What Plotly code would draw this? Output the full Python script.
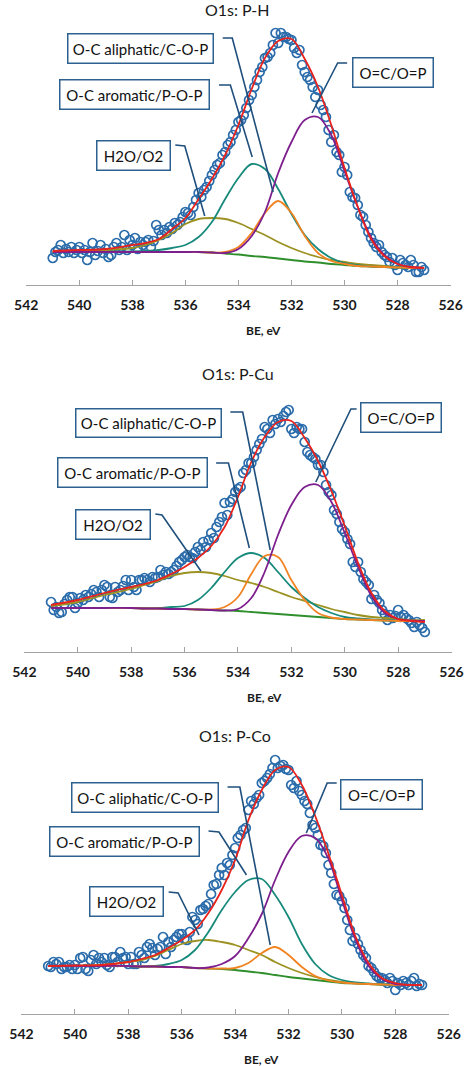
import plotly.graph_objects as go

W, H = 474, 1066

# ---------------- data ----------------
# binding energies of the measured points (eV) and of the fitted curves
be_pts = [round(541.0 - 0.1 * i, 1) for i in range(141)]
be_fit = [541, 540, 539, 538, 537.5, 537, 536.5, 536, 535.5, 535, 534.5, 534, 533.5,
          533, 532.5, 532, 531.5, 531, 530.5, 530, 529.5, 529, 528.5, 528, 527.5, 527]

# ---- O1s: P-H ----
ph_pts = [27, 33, 35, 40, 32, 36, 33, 38, 32, 35,
          38, 32, 35, 25, 33, 42, 30, 34, 40, 32,
          36, 28, 30, 38, 42, 35, 38, 50, 35, 45,
          40, 47, 36, 43, 40, 43, 45, 38, 44, 60,
          55, 50, 55, 52, 58, 56, 62, 60, 63, 68,
          73, 72, 70, 78, 85, 92, 88, 95, 98, 104,
          110, 115, 120, 122, 130, 133, 140, 143, 150, 155,
          163, 165, 170, 177, 185, 190, 198, 205, 213, 218,
          227, 228, 232, 240, 252, 242, 252, 248, 248, 246,
          245, 237, 232, 235, 220, 213, 208, 205, 198, 188,
          195, 180, 175, 168, 155, 143, 150, 133, 130, 113,
          118, 110, 93, 88, 87, 80, 70, 68, 60, 53,
          47, 42, 38, 40, 33, 30, 28, 23, 27, 20,
          15, 25, 22, 20, 18, 25, 20, 13, 13, 18,
          15]
ph_base = [33, 33, 33, 33, 33, 33, 33, 33, 33, 32.5, 31.5, 30.5, 29,
           28, 26.5, 25, 23.5, 22.5, 21, 20, 19, 18.5, 18, 17.5, 17, 17]
ph_h2o = [33, 34, 35, 37, 40, 45, 52, 61, 66, 67, 66, 62, 56,
          50, 43, 37, 32, 28, 25, 23, 21, 20, 19, 18, 17.5, 17]
ph_arom = [33, 33, 33, 33.5, 34, 35, 37, 40, 48, 63, 86, 107, 121,
           116, 96, 71, 50, 36, 27, 22, 20, 18.5, 18, 17.5, 17, 17]
ph_aliph = [33, 33, 33, 33, 33, 33, 33, 33, 33, 32.5, 33, 38, 52,
            72, 84, 72, 49, 32, 24, 21, 19, 18.5, 18, 17.5, 17, 17]
ph_oc = [33, 33, 33, 33, 33, 33, 33, 33, 33, 32.5, 32, 36, 49,
         73, 112, 143, 165, 168, 150, 114, 78, 48, 30, 21, 18, 17]
ph_env = [34, 35, 36, 40, 42, 46, 56, 67, 86, 106, 130, 160, 196,
          227, 244, 246, 226, 198, 160, 117, 78, 46, 29, 21, 18, 17]

# ---- O1s: P-Cu ----
pcu_pts = [50, 42, 45, 39, 40, 48, 52, 55, 55, 44,
           49, 54, 52, 57, 55, 58, 62, 60, 55, 62,
           67, 65, 55, 54, 65, 60, 62, 66, 72, 62,
           72, 65, 62, 72, 72, 74, 72, 70, 75, 74,
           75, 82, 77, 80, 78, 80, 82, 86, 90, 92,
           95, 97, 95, 94, 100, 105, 102, 110, 105, 112,
           119, 114, 125, 130, 135, 149, 137, 150, 153, 160,
           163, 165, 179, 182, 189, 189, 195, 202, 208, 213,
           225, 223, 219, 232, 228, 233, 230, 236, 240, 242,
           223, 219, 225, 223, 223, 210, 200, 197, 195, 193,
           187, 187, 180, 167, 160, 157, 142, 138, 130, 123,
           120, 113, 108, 90, 85, 90, 80, 73, 70, 67,
           53, 57, 52, 49, 42, 38, 32, 37, 34, 36,
           42, 35, 37, 34, 32, 29, 25, 30, 27, 24,
           20]
pcu_base = [44, 44, 44, 44, 43.5, 43.5, 43, 43, 42.5, 42, 41.5, 41, 40,
            39, 38, 37, 36, 35, 34, 33, 32.5, 32, 31.5, 31, 31, 31]
pcu_h2o = [46, 50, 57, 63, 67, 71, 76, 79, 80, 79, 76, 72, 69,
           65, 60, 55, 51, 47, 43, 40, 37, 35, 34, 33, 32, 32]
pcu_arom = [44, 44, 44, 44, 44, 44, 45, 46, 52, 64, 80, 94, 99,
            94, 80, 65, 54, 45, 39, 35, 33.5, 32.5, 32, 31, 31, 31]
pcu_aliph = [44, 44, 44, 44, 43.5, 43.5, 43, 43, 42.5, 42.5, 45, 55, 78,
             96, 95, 72, 52, 39, 34.5, 33, 32.5, 32, 31.5, 31, 31, 31]
pcu_oc = [44, 44, 44, 44, 43.5, 43.5, 43, 43, 42.5, 42, 41.5, 43, 54,
          80, 117, 147, 165, 167, 150, 119, 85, 56, 39, 33, 31.5, 31]
pcu_env = [47, 52, 59, 65, 68, 72, 78, 85, 94, 106, 125, 155, 190,
           215, 230, 231, 214, 191, 161, 126, 89, 59, 41, 33, 31, 30]

# ---- O1s: P-Co ----
pco_pts = [48, 47, 52, 50, 52, 45, 47, 47, 49, 45,
           49, 45, 56, 57, 45, 43, 54, 59, 50, 56,
           52, 56, 49, 47, 57, 57, 52, 62, 56, 57,
           50, 57, 50, 50, 62, 59, 56, 67, 70, 66,
           59, 65, 67, 77, 60, 72, 67, 74, 77, 80,
           80, 75, 74, 82, 97, 94, 90, 104, 105, 108,
           110, 120, 129, 130, 139, 146, 139, 151, 149, 159,
           166, 176, 179, 184, 186, 204, 213, 210, 216, 219,
           231, 233, 236, 240, 246, 254, 246, 248, 249, 245,
           244, 229, 226, 233, 223, 219, 213, 210, 201, 189,
           186, 179, 169, 168, 161, 149, 141, 130, 119, 118,
           113, 106, 94, 84, 73, 76, 70, 64, 59, 56,
           48, 46, 42, 38, 36, 36, 34, 31, 36, 33,
           24, 31, 29, 33, 31, 29, 33, 36, 28, 30,
           29]
pco_base = [48, 48, 48, 48, 47.5, 47.5, 47, 47, 46, 45.5, 45, 44, 42.5,
            41, 39, 37, 35.5, 34, 32.5, 31, 30.5, 30, 29.5, 29, 29, 29]
pco_h2o = [48, 48, 49, 52, 54, 58, 64, 70, 73, 74, 72, 69, 64,
           59, 52, 46, 41, 37, 34, 32, 31, 30, 29.5, 29, 29, 29]
pco_arom = [48, 48, 48, 48, 47.5, 48, 50, 54, 64, 82, 104, 122, 134,
            135, 119, 97, 70, 50, 39, 34, 31.5, 30.5, 29.5, 29, 29, 29]
pco_aliph = [48, 48, 48, 48, 47.5, 47.5, 47, 47, 46, 45.5, 45.5, 46, 51,
             61, 67, 59, 47, 38, 33.5, 31.5, 30.5, 30, 29.5, 29, 29, 29]
pco_oc = [48, 48, 48, 48, 47.5, 47.5, 47, 47, 46, 46.5, 50, 58, 76,
          100, 134, 162, 178, 176, 155, 114, 75, 48, 35, 30, 29, 29]
pco_env = [48, 48.5, 49, 52, 55, 59, 66, 74, 84, 101, 124, 154, 194,
           224, 244, 247, 229, 198, 160, 119, 78, 51, 36, 31, 29, 29]

titles = ["O1s: P-H", "O1s: P-Cu", "O1s: P-Co"]
tick_vals = [542, 540, 538, 536, 534, 532, 530, 528, 526]
tick_text = ["542", "540", "538", "536", "534", "532", "530", "528", "526"]
labels = ["O-C aliphatic/C-O-P", "O-C aromatic/P-O-P", "H2O/O2", "O=C/O=P"]

panels = [
    (ph_pts, ph_base, ph_h2o, ph_arom, ph_aliph, ph_oc, ph_env),
    (pcu_pts, pcu_base, pcu_h2o, pcu_arom, pcu_aliph, pcu_oc, pcu_env),
    (pco_pts, pco_base, pco_h2o, pco_arom, pco_aliph, pco_oc, pco_env),
]

# ---------------- styling / layout geometry (pixels) ----------------
FONT = "Lato, Open Sans, sans-serif"
C_PTS = "#2b6cab"
C_ENV = "#e8221c"
C_OC = "#7e1f8e"
C_ALI = "#f28322"
C_ARO = "#178a7c"
C_H2O = "#9c9222"
C_BASE = "#2f8f2c"
C_LEAD = "#1f4f7c"
C_BOX = "#2d6190"

def fx(px):
    return px / W

def fy(py):
    return 1 - py / H

# plot geometry: (x px of 542, x px of 526, axis y px, top y px)
geo = [(15, 462, 285, 20), (13, 463, 652, 387), (10, 460, 1014, 749)]
YMAX = 265

fig = go.Figure()

curve_sets = [(1, C_BASE), (2, C_H2O), (3, C_ARO), (4, C_ALI), (5, C_OC), (6, C_ENV)]

for i, pdata in enumerate(panels):
    xa = "x" if i == 0 else f"x{i+1}"
    ya = "y" if i == 0 else f"y{i+1}"
    fig.add_trace(go.Scatter(
        x=be_pts, y=pdata[0], mode="markers", xaxis=xa, yaxis=ya,
        marker=dict(symbol="circle-open", size=9, color=C_PTS, line=dict(width=1.7, color=C_PTS)),
        showlegend=False, hoverinfo="skip"))
    for idx, col in curve_sets:
        fig.add_trace(go.Scatter(
            x=be_fit, y=pdata[idx], mode="lines", xaxis=xa, yaxis=ya,
            line=dict(color=col, width=1.8, shape="spline", smoothing=1.0),
            showlegend=False, hoverinfo="skip"))

layout = dict(width=W, height=H, margin=dict(l=0, r=0, t=0, b=0),
              paper_bgcolor="white", plot_bgcolor="white", showlegend=False)

for i, (x0, x1, ay, ty) in enumerate(geo):
    sfx = "" if i == 0 else str(i + 1)
    layout["xaxis" + sfx] = dict(
        domain=[fx(x0), fx(x1)], range=[542, 526], anchor="y" + sfx,
        tickvals=tick_vals, ticktext=tick_text, showgrid=False, zeroline=False,
        showline=True, linecolor="#a3a3a3", linewidth=1, ticks="inside", ticklen=5,
        tickcolor="#a3a3a3", ticklabelstandoff=7,
        tickfont=dict(family=FONT, size=14, color="#1a1a1a", weight="bold"))
    layout["yaxis" + sfx] = dict(
        domain=[fy(ay), fy(ty)], range=[0, YMAX], visible=False, anchor="x" + sfx)

fig.update_layout(**layout)

annotations = []
shapes = []

# titles and axis titles
title_pos = [(238, 9), (238, 373), (235, 735)]
axis_title_pos = [(265, 330), (266, 697), (263, 1059)]
for t, (px, py) in zip(titles, title_pos):
    annotations.append(dict(text=t, x=fx(px), y=fy(py), xref="paper", yref="paper",
                            xanchor="center", yanchor="middle", showarrow=False,
                            font=dict(family=FONT, size=16, color="#1a1a1a")))
for (px, py) in axis_title_pos:
    annotations.append(dict(text="BE, eV", x=fx(px), y=fy(py), xref="paper", yref="paper",
                            xanchor="center", yanchor="middle", showarrow=False,
                            font=dict(family=FONT, size=12, color="#1a1a1a", weight="bold")))

# callout boxes: (label index, center x, center y, box width, box height)
boxes = [
    [(0, 135, 48, 146, 30), (1, 129, 95, 150, 30), (2, 128, 155, 74, 30), (3, 401.5, 72, 81, 30)],
    [(0, 144, 422.5, 146, 29), (1, 127, 473, 150, 30), (2, 106.5, 524, 75, 30), (3, 409.5, 418, 81, 30)],
    [(0, 140.5, 797, 147, 30), (1, 119, 841, 150, 30), (2, 121, 901, 74, 30), (3, 389, 794, 82, 30)],
]
leaders = [
    [[(222, 38), (232, 38), (275, 192)], [(218, 85), (230, 85), (253, 157)],
     [(172, 145), (182, 146), (203, 216)], [(353, 63), (343, 63), (316, 113)]],
    [[(230, 412), (243, 412), (272, 550)], [(215, 463), (228, 463), (250, 548)],
     [(151, 514), (158, 515), (199, 571)], [(363, 409), (357, 409), (320, 482)]],
    [[(227, 787), (240, 787), (272, 945)], [(207, 831), (218, 832), (247, 875)],
     [(165, 892), (175, 893), (197, 935)], [(342, 783), (332, 783), (310, 833)]],
]

for pb in boxes:
    for (li, cx, cy, bw, bh) in pb:
        annotations.append(dict(
            text=labels[li], x=fx(cx), y=fy(cy), xref="paper", yref="paper",
            xanchor="center", yanchor="middle", showarrow=False,
            width=bw - 10, height=bh - 10, borderpad=4, borderwidth=1.5,
            bordercolor=C_BOX, bgcolor="white", align="center", valign="middle",
            font=dict(family=FONT, size=15, color="#111111")))

for pl in leaders:
    for pts in pl:
        path = "M " + " L ".join(f"{fx(px):.5f} {fy(py):.5f}" for px, py in pts)
        shapes.append(dict(type="path", path=path, xref="paper", yref="paper",
                           line=dict(color=C_LEAD, width=1.6)))

fig.update_layout(annotations=annotations, shapes=shapes)

fig.write_html("out.html")
